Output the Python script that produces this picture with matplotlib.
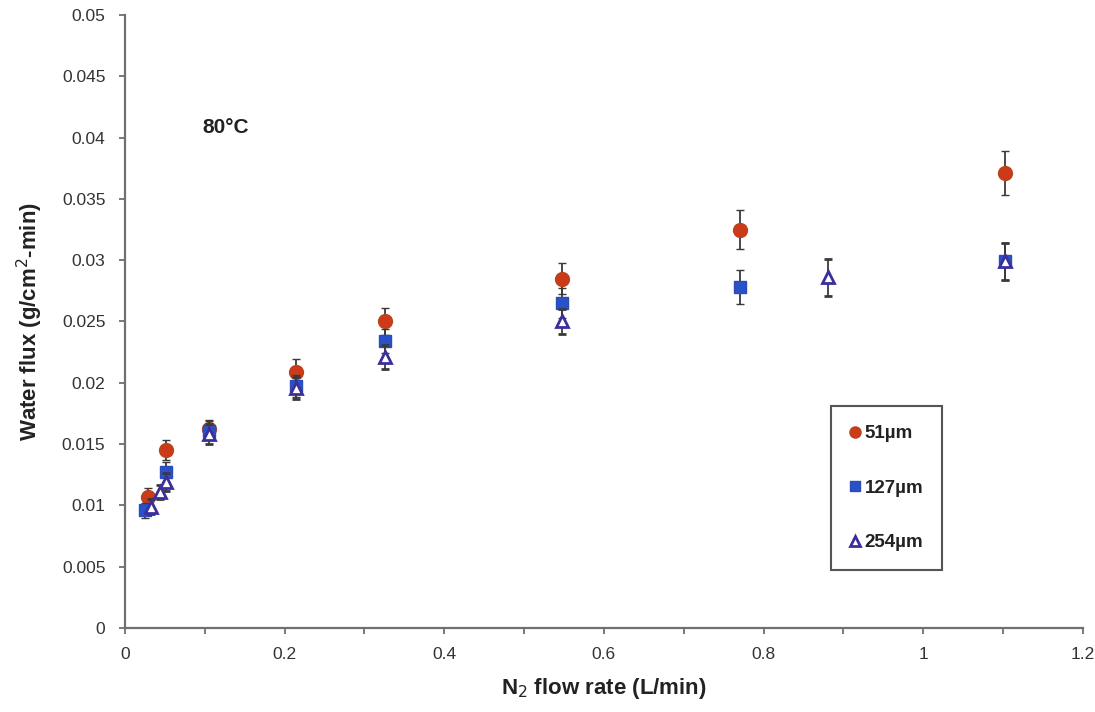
import matplotlib.pyplot as plt
from matplotlib.lines import Line2D
from matplotlib.ticker import FuncFormatter, MultipleLocator

# 51 um membrane
x_51 = [0.029, 0.052, 0.105, 0.215, 0.326, 0.548, 0.770, 1.102]
y_51 = [0.0107, 0.0145, 0.0162, 0.0209, 0.0250, 0.0285, 0.0325, 0.0371]
e_51 = [0.0007, 0.0008, 0.0008, 0.0010, 0.0011, 0.0013, 0.0016, 0.0018]

# 127 um membrane
x_127 = [0.025, 0.052, 0.105, 0.215, 0.326, 0.548, 0.770, 1.102]
y_127 = [0.0096, 0.0127, 0.0161, 0.0197, 0.0234, 0.0265, 0.0278, 0.0299]
e_127 = [0.0006, 0.0008, 0.0008, 0.0009, 0.0010, 0.0012, 0.0014, 0.0015]

# 254 um membrane
x_254 = [0.033, 0.044, 0.052, 0.105, 0.215, 0.326, 0.548, 0.881, 1.102]
y_254 = [0.0099, 0.0111, 0.0119, 0.0158, 0.0196, 0.0221, 0.0250, 0.0286, 0.0299]
e_254 = [0.0006, 0.0006, 0.0007, 0.0008, 0.0009, 0.0010, 0.0010, 0.0015, 0.0015]

labels = ["51µm", "127µm", "254µm"]

STYLES = [
    dict(marker="o", ms=10, mfc="#cc3a1a", mec="#b8441c", mew=1),
    dict(marker="s", ms=9, mfc="#2a52c8", mec="#2a4bb8", mew=1),
    dict(marker="^", ms=9, mfc="#ffffff", mec="#3b2f9c", mew=2),
]


def main() -> None:
    plt.rcParams["font.family"] = ["Liberation Sans", "DejaVu Sans"]
    fig = plt.figure(figsize=(10.95, 7.12), dpi=100)
    ax = fig.add_axes([0.114, 0.118, 0.875, 0.861])

    err_kw = dict(ecolor="#3a3a3a", elinewidth=1.3, capsize=3, capthick=1.3, linestyle="none")
    series = [(x_51, y_51, e_51), (x_127, y_127, e_127), (x_254, y_254, e_254)]
    for i, ((xs, ys, es), style) in enumerate(zip(series, STYLES)):
        ax.errorbar(xs, ys, yerr=es, zorder=3 + i, **style, **err_kw)

    ax.set_xlim(0, 1.2)
    ax.set_ylim(0, 0.05)
    ax.xaxis.set_major_locator(MultipleLocator(0.2))
    ax.xaxis.set_minor_locator(MultipleLocator(0.1))
    ax.yaxis.set_major_locator(MultipleLocator(0.005))
    fmt = FuncFormatter(lambda v, _: f"{round(v, 4):g}")
    ax.xaxis.set_major_formatter(fmt)
    ax.yaxis.set_major_formatter(fmt)

    for side in ("top", "right"):
        ax.spines[side].set_visible(False)
    for side in ("left", "bottom"):
        ax.spines[side].set_color("#707070")
        ax.spines[side].set_linewidth(1.6)
    ax.tick_params(which="both", direction="out", color="#707070", width=1.3,
                   labelsize=12.5, labelcolor="#333333")
    ax.tick_params(which="major", length=4, pad=10)
    ax.tick_params(which="minor", length=4)

    ax.set_xlabel("N$_2$ flow rate (L/min)", fontsize=16, fontweight="bold",
                  color="#222222", labelpad=10)
    ax.set_ylabel("Water flux (g/cm$^2$-min)", fontsize=16, fontweight="bold",
                  color="#222222", labelpad=12)

    ax.text(0.0975, 0.0408, "80°C", fontsize=15, fontweight="bold", color="#222222",
            ha="left", va="center")

    handles = [Line2D([], [], linestyle="none", **dict(s, ms=s["ms"] * 0.8)) for s in STYLES]
    leg = ax.legend(handles, labels, loc="upper left", bbox_to_anchor=(0.727, 0.377),
                    fancybox=False, edgecolor="#555555", framealpha=1, handlelength=0.6,
                    handletextpad=0.2, labelspacing=2.0, borderpad=1.0,
                    prop=dict(size=13.5, weight="bold"))
    leg.get_frame().set_linewidth(1.5)
    for text in leg.get_texts():
        text.set_color("#222222")

    fig.savefig("out.png", dpi=100)
    plt.close(fig)


if __name__ == "__main__":
    main()
